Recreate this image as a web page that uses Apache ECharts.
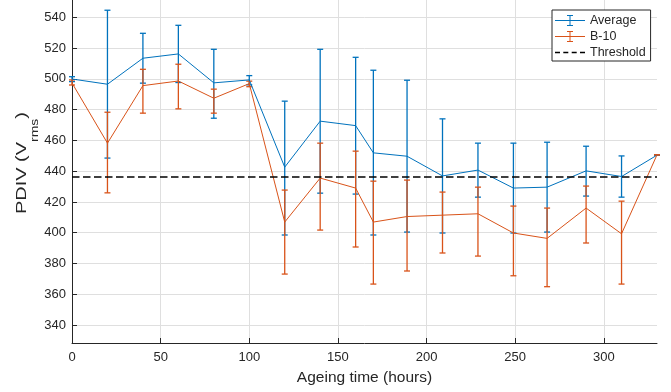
<!DOCTYPE html>
<html><head><meta charset="utf-8">
<script src="https://cdn.jsdelivr.net/npm/echarts@6/dist/echarts.min.js"></script>
<style>html,body{margin:0;padding:0;background:#fff}#c{width:671px;height:392px}</style>
</head><body><div id="c"></div>
<script>
// ---- data ----
const hours = [0, 20, 40, 60, 80, 100, 120, 140, 160, 170, 189, 209, 229, 249, 268, 290, 310, 330];

const avgMean = [499.9, 496.5, 513.4, 516.2, 497.4, 499.3, 442.6, 472.5, 469.6, 451.9, 449.7, 436.9, 440.7, 429.0, 429.6, 440.2, 436.5, 450.4];
const avgLow  = [498.2, 448.5, 497.2, 497.6, 474.4, 496.1, 398.5, 425.7, 425.1, 398.5, 400.4, 399.8, 423.1, 399.8, 400.4, 423.8, 423.1, 450.4];
const avgHigh = [501.4, 544.6, 529.6, 534.8, 519.2, 502.1, 485.5, 519.2, 514.0, 505.6, 499.1, 474.0, 458.2, 458.2, 458.8, 456.2, 449.9, 450.4];

const b10Mean = [497.3, 458.2, 495.6, 498.6, 487.4, 496.9, 406.9, 435.5, 429.0, 406.9, 410.5, 411.4, 412.3, 399.8, 396.3, 416.0, 399.3, 450.6];
const b10Low  = [496.0, 425.9, 477.7, 480.5, 477.7, 494.9, 373.1, 401.7, 390.7, 366.6, 375.1, 386.8, 384.8, 372.0, 364.9, 393.3, 366.6, 450.6];
const b10High = [499.3, 478.3, 506.2, 509.5, 493.3, 498.5, 427.7, 458.2, 453.0, 433.5, 434.2, 426.4, 429.6, 417.3, 416.0, 430.3, 420.5, 450.6];

const threshold = 436.2;

const xTickValues = [0, 50, 100, 150, 200, 250, 300];
const yTickValues = [340, 360, 380, 400, 420, 440, 460, 480, 500, 520, 540];

const seriesNames = ['Average', 'B-10', 'Threshold'];
const xName = 'Ageing time (hours)';
const yNameMain = 'PDIV (V', yNameSub = 'rms', yNameEnd = ')';

// ---- chart ----
const BLUE = '#0072BD', ORANGE = '#D95319', AX = '#262626';
const FONT = '"Liberation Sans", Arial, Helvetica, sans-serif';
const Y_MAIN_SIZE = 15, Y_SUB_SIZE = 10.5;

function textWidth(str, size) {
  const ctx = document.createElement('canvas').getContext('2d');
  ctx.font = size + 'px ' + FONT;
  return ctx.measureText(str).width;
}

function errSeries(name, color, low, high) {
  return {
    type: 'custom', name: name, silent: true, z: 3,
    data: hours.map((h, i) => [h, low[i], high[i]]),
    encode: { x: 0, y: [1, 2] },
    renderItem: function (params, api) {
      const x = api.value(0);
      const lo = api.coord([x, api.value(1)]);
      const hi = api.coord([x, api.value(2)]);
      const w = 3;
      const st = { stroke: color, lineWidth: 1.3 };
      return { type: 'group', children: [
        { type: 'line', shape: { x1: lo[0], y1: lo[1], x2: hi[0], y2: hi[1] }, style: st },
        { type: 'line', shape: { x1: lo[0] - w, y1: lo[1], x2: lo[0] + w, y2: lo[1] }, style: st },
        { type: 'line', shape: { x1: hi[0] - w, y1: hi[1], x2: hi[0] + w, y2: hi[1] }, style: st }
      ] };
    }
  };
}

const errIcon = 'path://M0,4.5H14.5V0.5H12V-0.5H18V0.5H15.5V4.5H30V5.5H15.5V9.5H18V10.5H12V9.5H14.5V5.5H0Z';
const dashIcon = 'path://M0,0H5V1.3H0Z M8.3,0H13.3V1.3H8.3Z M16.7,0H21.7V1.3H16.7Z M25,0H30V1.3H25Z';

const wMain = textWidth(yNameMain, Y_MAIN_SIZE);
const wSub = textWidth(yNameSub, Y_SUB_SIZE);

const chart = echarts.init(document.getElementById('c'), null, { renderer: 'canvas' });
chart.setOption({
  animation: false,
  backgroundColor: '#fff',
  textStyle: { fontFamily: FONT },
  grid: { left: 72, right: 14, top: 0, bottom: 49, containLabel: false },
  legend: {
    data: [
      { name: seriesNames[0], icon: errIcon },
      { name: seriesNames[1], icon: errIcon },
      { name: seriesNames[2], icon: dashIcon }
    ],
    orient: 'vertical', left: 552, top: 10,
    itemWidth: 30, itemHeight: 11, itemGap: 3, symbolKeepAspect: true,
    backgroundColor: '#fff', borderColor: AX, borderWidth: 1, borderRadius: 0,
    padding: [4, 5, 2, 3],
    textStyle: { fontSize: 12.5, color: AX, fontFamily: FONT }
  },
  graphic: [{
    type: 'group', x: 22, y: 214, rotation: Math.PI / 2, scaleX: 1.33, scaleY: 1, silent: true,
    children: [
      { type: 'text', x: 0, y: 0, style: { text: yNameMain, fontSize: Y_MAIN_SIZE, fontFamily: FONT, fill: AX, align: 'left', verticalAlign: 'middle' } },
      { type: 'text', x: wMain, y: 13, style: { text: yNameSub, fontSize: Y_SUB_SIZE, fontFamily: FONT, fill: AX, align: 'left', verticalAlign: 'middle' } },
      { type: 'text', x: wMain + wSub, y: 0, style: { text: yNameEnd, fontSize: Y_MAIN_SIZE, fontFamily: FONT, fill: AX, align: 'left', verticalAlign: 'middle' } }
    ]
  }],
  xAxis: {
    type: 'value', min: 0, max: 330,
    name: xName, nameLocation: 'middle', nameGap: 27,
    nameTextStyle: { fontSize: 15.5, color: AX, fontFamily: FONT },
    axisLine: { show: true, lineStyle: { color: AX, width: 1 } },
    axisTick: { show: true, inside: true, length: 5, lineStyle: { color: AX }, customValues: xTickValues },
    axisLabel: { fontSize: 13, color: AX, margin: 8, customValues: xTickValues, fontFamily: FONT },
    splitLine: { show: true, lineStyle: { color: '#dfdfdf', width: 1 } }
  },
  yAxis: {
    type: 'value', min: 328.3, max: 551.25,
    axisLine: { show: true, lineStyle: { color: AX, width: 1 } },
    axisTick: { show: true, inside: true, length: 5, lineStyle: { color: AX }, customValues: yTickValues },
    axisLabel: { fontSize: 13, color: AX, margin: 6, customValues: yTickValues, fontFamily: FONT },
    splitLine: { show: true, lineStyle: { color: '#dfdfdf', width: 1 } }
  },
  series: [
    errSeries('avgErr', BLUE, avgLow, avgHigh),
    errSeries('b10Err', ORANGE, b10Low, b10High),
    { type: 'line', name: seriesNames[0], data: hours.map((h, i) => [h, avgMean[i]]),
      symbol: 'none', z: 4, lineStyle: { color: BLUE, width: 1 }, itemStyle: { color: BLUE } },
    { type: 'line', name: seriesNames[1], data: hours.map((h, i) => [h, b10Mean[i]]),
      symbol: 'none', z: 4, lineStyle: { color: ORANGE, width: 1 }, itemStyle: { color: ORANGE } },
    { type: 'line', name: seriesNames[2], data: [[0, threshold], [330, threshold]],
      symbol: 'none', z: 5, lineStyle: { color: '#000', width: 1.3, type: [7.5, 3.5] }, itemStyle: { color: '#000' } }
  ]
});
</script>
</body></html>
